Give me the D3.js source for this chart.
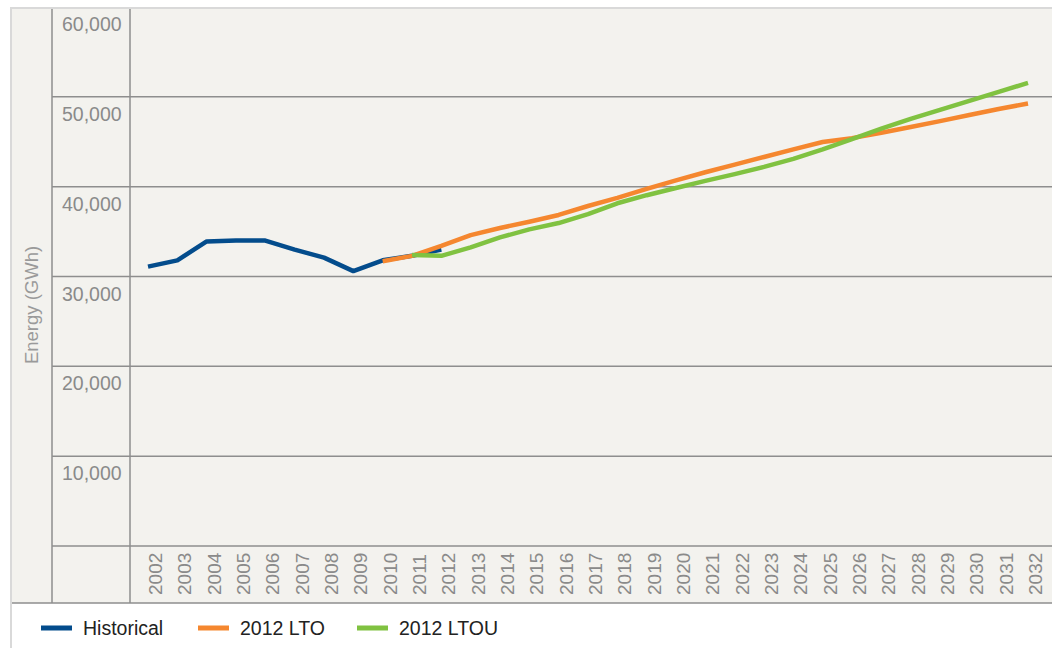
<!DOCTYPE html>
<html>
<head>
<meta charset="utf-8">
<script src="https://cdn.jsdelivr.net/npm/d3@7"></script>
<style>
  body { margin: 0; background: #fff; }
  text { font-family: "Liberation Sans", Arial, Helvetica, sans-serif; }
</style>
</head>
<body>
<div id="chart"></div>
<script>
var years = d3.range(2002, 2033);
var yTicks = [0, 10000, 20000, 30000, 40000, 50000, 60000];

// values (GWh)
var histYears = [2002, 2003, 2004, 2005, 2006, 2007, 2008, 2009, 2010, 2011, 2012];
var histVals  = [31100, 31800, 33900, 34000, 34000, 33000, 32100, 30600, 31800, 32300, 33000];

var ltoYears = d3.range(2010, 2033);
var ltoVals  = [31700, 32300, 33400, 34600, 35400, 36100, 36850, 37850, 38750, 39750, 40700,
                41600, 42450, 43300, 44150, 44970, 45400, 46000, 46650, 47300, 47980, 48650, 49250];

var ltouYears = d3.range(2011, 2033);
var ltouVals  = [32400, 32300, 33250, 34350, 35250, 35950, 36950, 38150, 39050, 39850, 40650,
                 41400, 42200, 43100, 44150, 45300, 46450, 47550, 48550, 49550, 50550, 51550];

var series = [
  {name: "Historical", color: "#034c8c", years: histYears, vals: histVals},
  {name: "2012 LTO",   color: "#f5872f", years: ltoYears,  vals: ltoVals},
  {name: "2012 LTOU",  color: "#80c241", years: ltouYears, vals: ltouVals}
];

var width = 1052, height = 648,
    frameLeft = 12, frameTop = 9, frameBottom = 603,
    labelCol = 52, plotLeft = 130;

var svg = d3.select("#chart")
  .append("svg")
    .attr("width", width)
    .attr("height", height);

var x = d3.scalePoint().domain(years).range([148, 1028]);
var y = d3.scaleLinear().domain([0, 60000]).range([546, 7]);

// frame
svg.append("rect").attr("x", 10).attr("y", 7).attr("width", width - 10).attr("height", height - 7)
  .attr("fill", "#d9d9d9");
svg.append("rect").attr("x", frameLeft).attr("y", frameTop)
  .attr("width", width - frameLeft).attr("height", frameBottom - frameTop)
  .attr("fill", "#f3f2ee");
svg.append("rect").attr("x", frameLeft).attr("y", frameBottom)
  .attr("width", width - frameLeft).attr("height", height - frameBottom)
  .attr("fill", "#fff");

var gridColor = "#8e8e8e";

// horizontal grid
svg.selectAll(".grid")
  .data(yTicks.filter(function(d){ return d < 60000; }))
.enter().append("line")
  .attr("x1", labelCol).attr("x2", width)
  .attr("y1", function(d){ return y(d); })
  .attr("y2", function(d){ return y(d); })
  .attr("stroke", gridColor).attr("stroke-width", 1.5);

// vertical separators + bottom line
[labelCol, plotLeft].forEach(function(xx) {
  svg.append("line").attr("x1", xx).attr("x2", xx).attr("y1", frameTop).attr("y2", frameBottom)
    .attr("stroke", gridColor).attr("stroke-width", 1.5);
});
svg.append("line").attr("x1", frameLeft).attr("x2", width).attr("y1", frameBottom).attr("y2", frameBottom)
  .attr("stroke", gridColor).attr("stroke-width", 1.5);

// y labels
svg.selectAll(".ylab")
  .data(yTicks.filter(function(d){ return d > 0; }))
.enter().append("text")
  .attr("x", 62)
  .attr("y", function(d){ return y(d) + 24; })
  .attr("fill", "#8a8a8a")
  .style("font-size", "19.5px")
  .text(d3.format(","));

svg.append("text")
  .attr("transform", "translate(38,305) rotate(-90)")
  .attr("text-anchor", "middle")
  .attr("fill", "#9a9a9a")
  .style("font-size", "18.5px")
  .text("Energy (GWh)");

// x labels
svg.selectAll(".xlab")
  .data(years)
.enter().append("text")
  .attr("transform", function(d){ return "translate(" + (x(d) + 14) + ",595) rotate(-90)"; })
  .attr("fill", "#8a8a8a")
  .style("font-size", "19px")
  .text(function(d){ return d; });

// lines
var line = d3.line()
  .x(function(d){ return x(d[0]); })
  .y(function(d){ return y(d[1]); });

series.forEach(function(s) {
  svg.append("path")
    .datum(d3.zip(s.years, s.vals))
    .attr("d", line)
    .attr("fill", "none")
    .attr("stroke", s.color)
    .attr("stroke-width", 4.5)
    .attr("stroke-linejoin", "round");
});

// legend
var legX = [41, 198, 357];
var leg = svg.selectAll(".leg")
  .data(series)
.enter().append("g")
  .attr("transform", function(d, i){ return "translate(" + legX[i] + ",628)"; });
leg.append("rect").attr("x", 0).attr("y", -2.5).attr("width", 31).attr("height", 5)
  .attr("fill", function(d){ return d.color; });
leg.append("text").attr("x", 42).attr("y", 6.5)
  .attr("fill", "#222")
  .style("font-size", "19.5px")
  .text(function(d){ return d.name; });
</script>
</body>
</html>
